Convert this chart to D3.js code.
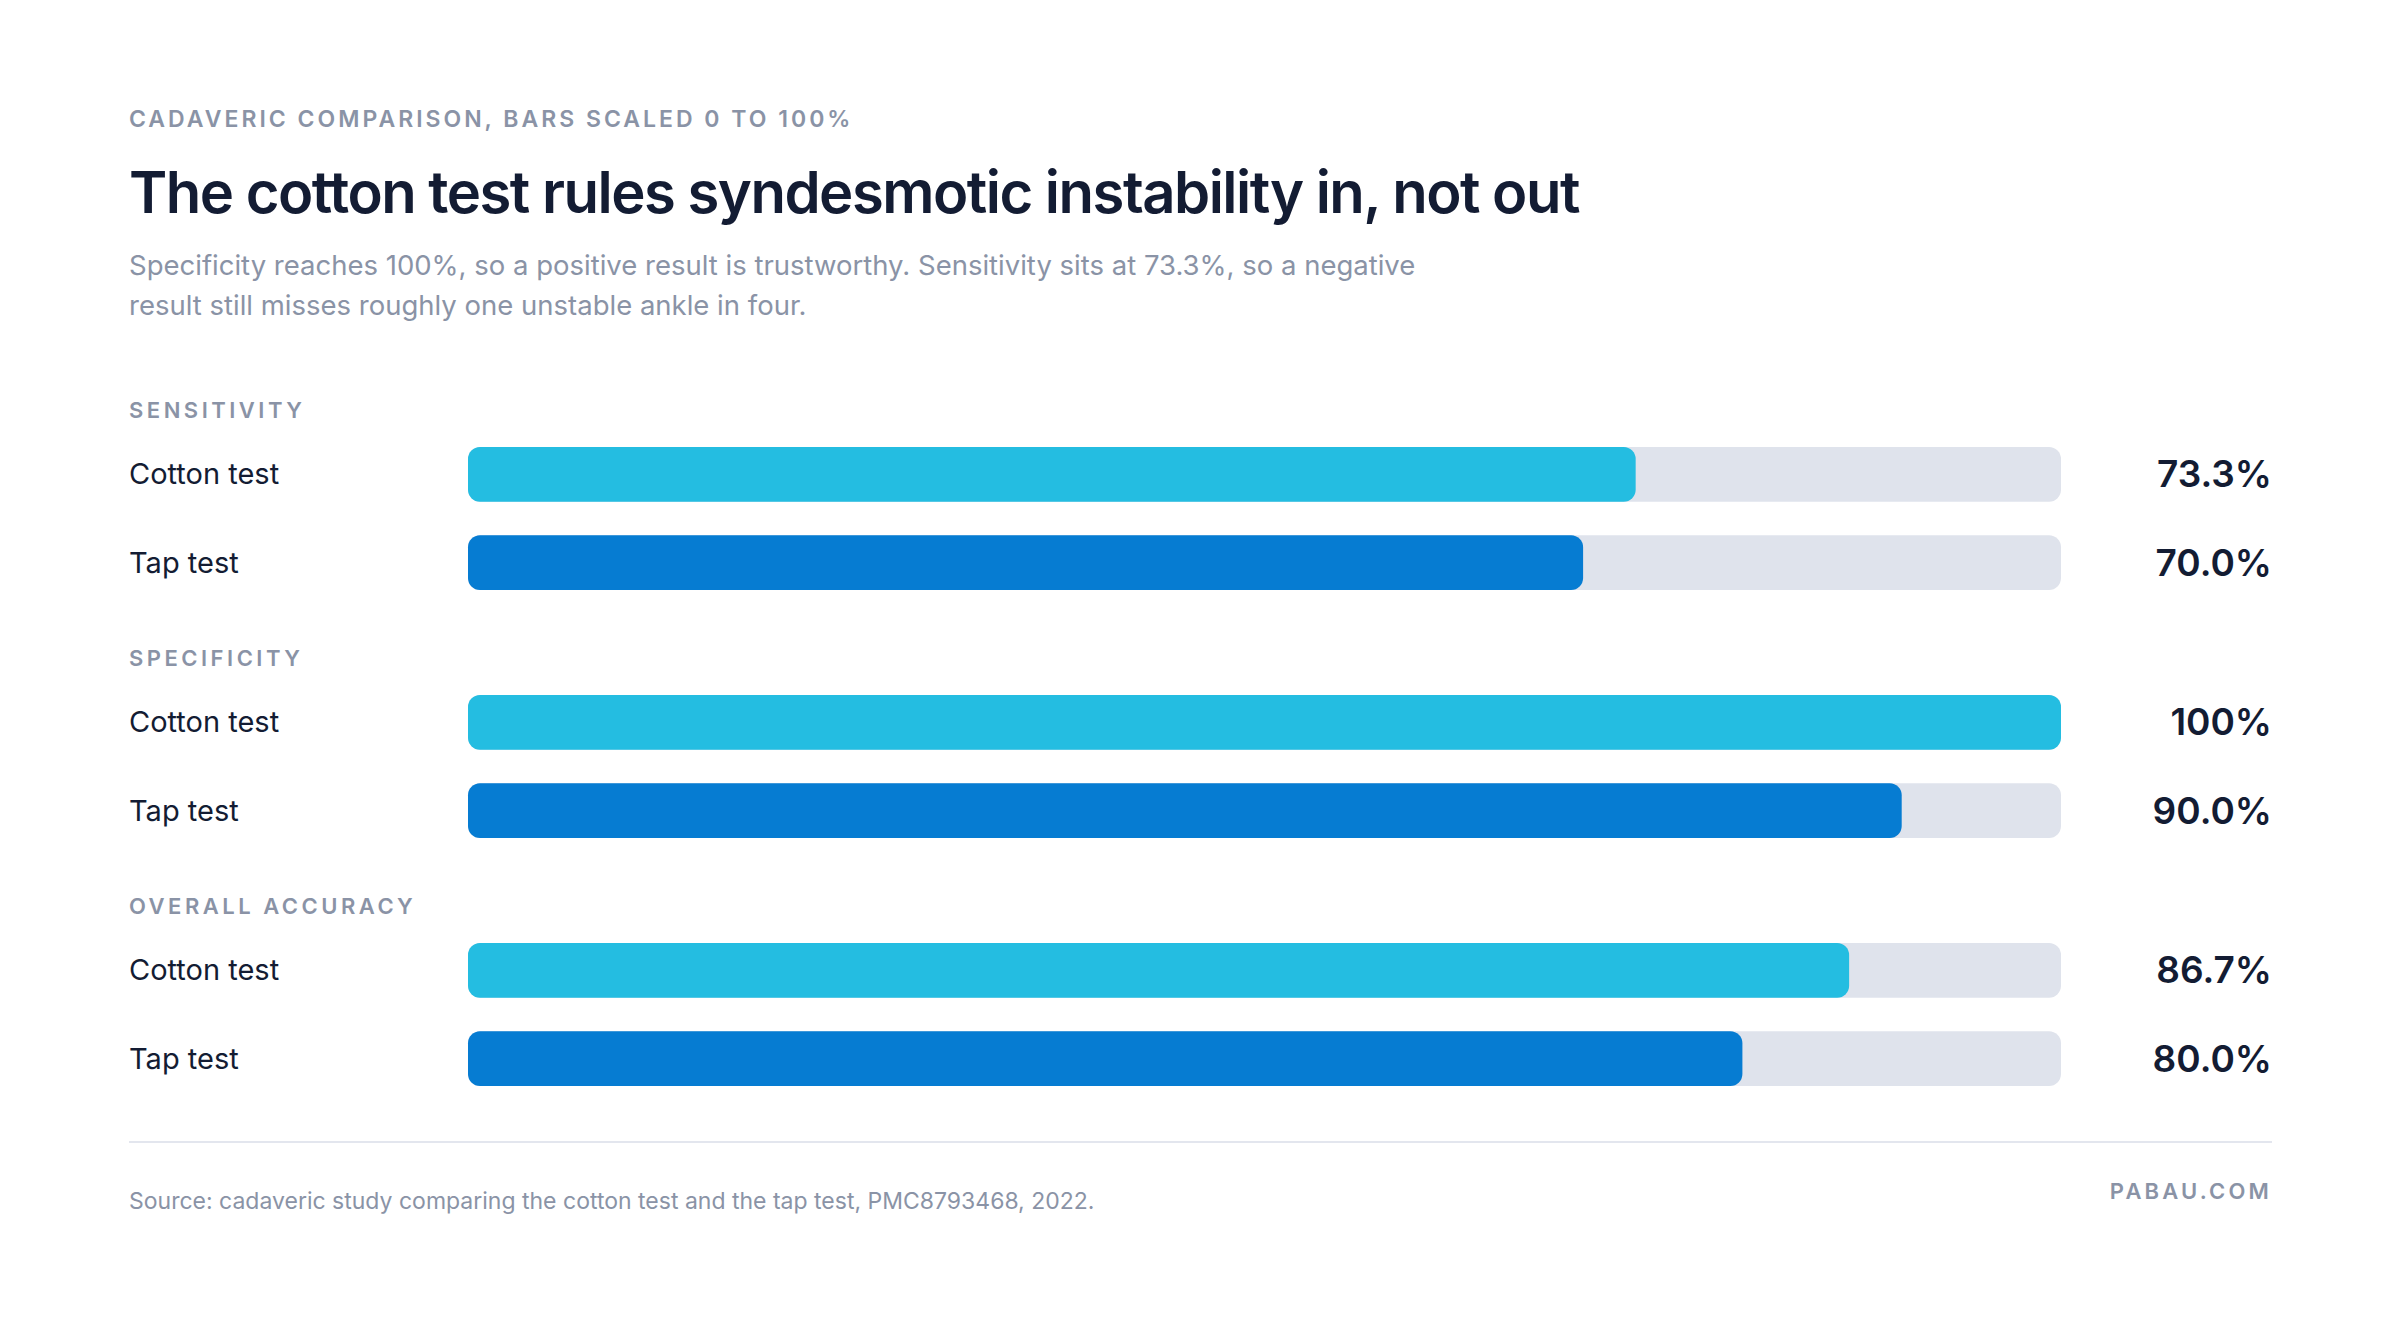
<!DOCTYPE html>
<html>
<head>
<meta charset="utf-8">
<script src="https://cdn.jsdelivr.net/npm/d3@7"></script>
<style>
  body { margin: 0; background: #fff; }
  text { font-family: Inter, "Open Sans", sans-serif; }
</style>
</head>
<body>
<svg id="chart"></svg>
<script>
let metrics = ["SENSITIVITY", "SPECIFICITY", "OVERALL ACCURACY"]
let tests = ["Cotton test", "Tap test"]
let cottonValues = [73.3, 100, 86.7]
let tapValues = [70.0, 90.0, 80.0]
let valueLabels = [["73.3%", "70.0%"], ["100%", "90.0%"], ["86.7%", "80.0%"]]

let width = 2400
let height = 1336
let margin = { left: 129, right: 128 }
let barLeft = 468
let barRight = 2061
let colors = ["#24bde1", "#067cd2"]

let svg = d3.select("#chart").attr("width", width).attr("height", height)

let x = d3.scaleLinear().domain([0, 100]).range([barLeft, barRight])
let groupY = d3.scaleBand().domain(metrics).range([388, 1132]).paddingInner(0)
let rowY = d3.scaleBand().domain(tests).range([0, 143]).paddingInner(0.38)

// header
svg.append("text").attr("x", margin.left).attr("y", 127)
	.attr("font-size", 23).attr("font-weight", 600).attr("letter-spacing", 3)
	.attr("fill", "#8a93a6").text("CADAVERIC COMPARISON, BARS SCALED 0 TO 100%")
svg.append("text").attr("x", margin.left).attr("y", 213)
	.attr("font-size", 58).attr("font-weight", 600).attr("letter-spacing", -1.5)
	.attr("fill", "#131c33").text("The cotton test rules syndesmotic instability in, not out")
let sub = ["Specificity reaches 100%, so a positive result is trustworthy. Sensitivity sits at 73.3%, so a negative",
	"result still misses roughly one unstable ankle in four."]
svg.selectAll(".sub").data(sub).join("text")
	.attr("x", margin.left).attr("y", (d, i) => 275 + i * 40)
	.attr("font-size", 27.5).attr("fill", "#8a93a6").text(d => d)

let data = metrics.map((m, i) => ({ metric: m, rows: [
	{ test: tests[0], value: cottonValues[i], label: valueLabels[i][0] },
	{ test: tests[1], value: tapValues[i], label: valueLabels[i][1] }
] }))

let groups = svg.selectAll(".group").data(data).join("g")
	.attr("transform", d => `translate(0,${groupY(d.metric)})`)

groups.append("text").attr("x", margin.left).attr("y", 30)
	.attr("font-size", 22).attr("font-weight", 600).attr("letter-spacing", 3.5)
	.attr("fill", "#8a93a6").text(d => d.metric)

let rows = groups.selectAll(".row").data(d => d.rows).join("g")
	.attr("transform", d => `translate(0,${59 + rowY(d.test)})`)

rows.append("rect").attr("x", x(0)).attr("y", 0)
	.attr("width", x(100) - x(0)).attr("height", rowY.bandwidth())
	.attr("rx", 12).attr("fill", "#dfe3ec")
rows.append("rect").attr("x", x(0)).attr("y", 0)
	.attr("width", d => x(d.value) - x(0)).attr("height", rowY.bandwidth())
	.attr("rx", 12).attr("fill", (d, i) => colors[i])
rows.append("text").attr("x", margin.left).attr("y", rowY.bandwidth() / 2 + 10)
	.attr("font-size", 29).attr("fill", "#131c33").text(d => d.test)
rows.append("text").attr("x", width - margin.right).attr("y", rowY.bandwidth() / 2 + 13)
	.attr("text-anchor", "end").attr("font-size", 37).attr("font-weight", 600)
	.attr("fill", "#131c33").text(d => d.label)

// footer
svg.append("line").attr("x1", margin.left).attr("x2", width - margin.right)
	.attr("y1", 1142).attr("y2", 1142).attr("stroke", "#e3e6ee").attr("stroke-width", 2)
svg.append("text").attr("x", margin.left).attr("y", 1209)
	.attr("font-size", 23).attr("fill", "#8a93a6")
	.text("Source: cadaveric study comparing the cotton test and the tap test, PMC8793468, 2022.")
svg.append("text").attr("x", width - margin.right).attr("y", 1199)
	.attr("text-anchor", "end").attr("font-size", 22).attr("font-weight", 600)
	.attr("letter-spacing", 3.2).attr("fill", "#8a93a6").text("PABAU.COM")
</script>
</body>
</html>
